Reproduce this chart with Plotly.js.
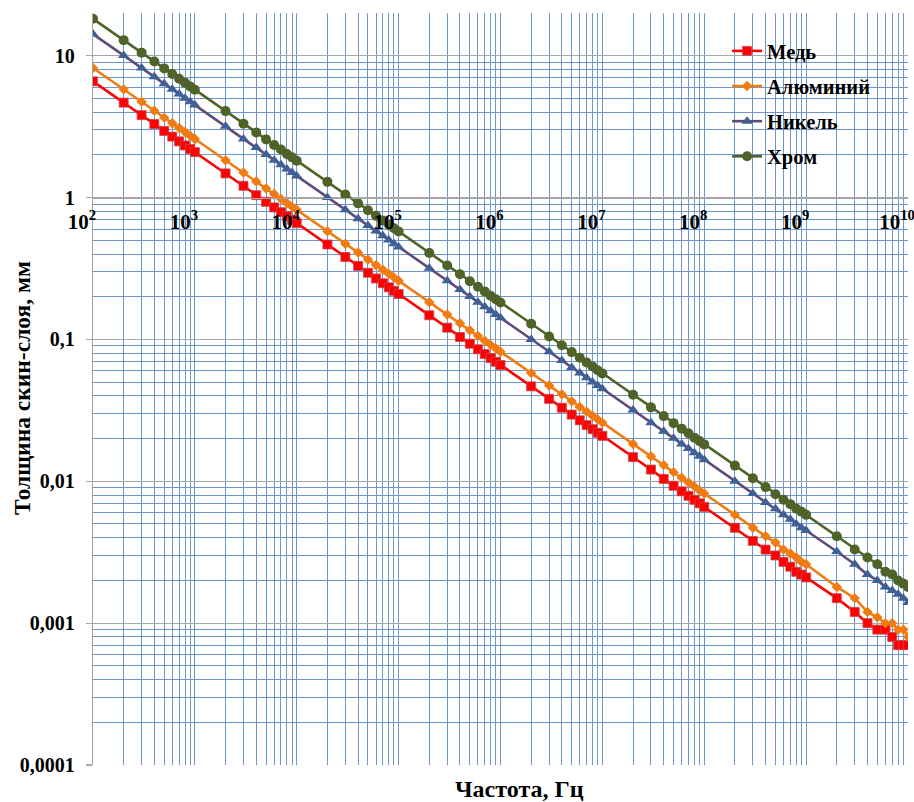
<!DOCTYPE html>
<html>
<head>
<meta charset="utf-8">
<script src="https://cdn.plot.ly/plotly-3.0.1.min.js"></script>
<style>
  html, body { margin: 0; padding: 0; background: #ffffff; }
  #chart { width: 914px; height: 802px; }
</style>
</head>
<body>
<div id="chart"></div>
<script>
// Frequency, Hz
const freq = [
  1e2, 2e2, 3e2, 4e2, 5e2, 6e2, 7e2, 8e2, 9e2,
  1e3, 2e3, 3e3, 4e3, 5e3, 6e3, 7e3, 8e3, 9e3,
  1e4, 2e4, 3e4, 4e4, 5e4, 6e4, 7e4, 8e4, 9e4,
  1e5, 2e5, 3e5, 4e5, 5e5, 6e5, 7e5, 8e5, 9e5,
  1e6, 2e6, 3e6, 4e6, 5e6, 6e6, 7e6, 8e6, 9e6,
  1e7, 2e7, 3e7, 4e7, 5e7, 6e7, 7e7, 8e7, 9e7,
  1e8, 2e8, 3e8, 4e8, 5e8, 6e8, 7e8, 8e8, 9e8,
  1e9, 2e9, 3e9, 4e9, 5e9, 6e9, 7e9, 8e9, 9e9,
  1e10
];

// Skin depth, mm
const copper = [
  6.6, 4.67, 3.81, 3.3, 2.95, 2.69, 2.49, 2.33, 2.2,
  2.09, 1.48, 1.21, 1.04, 0.933, 0.852, 0.789, 0.738, 0.696,
  0.66, 0.467, 0.381, 0.33, 0.295, 0.269, 0.249, 0.233, 0.22,
  0.209, 0.148, 0.121, 0.104, 0.0933, 0.0852, 0.0789, 0.0738, 0.0696,
  0.066, 0.0467, 0.0381, 0.033, 0.0295, 0.0269, 0.0249, 0.0233, 0.022,
  0.0209, 0.0148, 0.0121, 0.0104, 0.0093, 0.0085, 0.0079, 0.0074, 0.007,
  0.0066, 0.0047, 0.0038, 0.0033, 0.003, 0.0027, 0.0025, 0.0023, 0.0022,
  0.0021, 0.0015, 0.0012, 0.001, 0.0009, 0.0009, 0.0008, 0.0007, 0.0007,
  0.0007
];

const aluminium = [
  8.19, 5.79, 4.73, 4.1, 3.66, 3.34, 3.1, 2.9, 2.73,
  2.59, 1.83, 1.5, 1.3, 1.16, 1.06, 0.979, 0.916, 0.863,
  0.819, 0.579, 0.473, 0.41, 0.366, 0.334, 0.31, 0.29, 0.273,
  0.259, 0.183, 0.15, 0.13, 0.116, 0.106, 0.0979, 0.0916, 0.0863,
  0.0819, 0.0579, 0.0473, 0.041, 0.0366, 0.0334, 0.031, 0.029, 0.0273,
  0.0259, 0.0183, 0.015, 0.013, 0.0116, 0.0106, 0.0098, 0.0092, 0.0086,
  0.0082, 0.0058, 0.0047, 0.0041, 0.0037, 0.0033, 0.0031, 0.0029, 0.0027,
  0.0026, 0.0018, 0.0015, 0.0012, 0.0011, 0.001, 0.001, 0.0009, 0.0009,
  0.0008
];

const nickel = [
  14.2, 10.04, 8.2, 7.1, 6.35, 5.8, 5.37, 5.02, 4.73,
  4.49, 3.18, 2.59, 2.25, 2.01, 1.83, 1.7, 1.59, 1.5,
  1.42, 1.0, 0.82, 0.71, 0.635, 0.58, 0.537, 0.502, 0.473,
  0.449, 0.318, 0.259, 0.225, 0.201, 0.183, 0.17, 0.159, 0.15,
  0.142, 0.1, 0.082, 0.071, 0.0635, 0.058, 0.0537, 0.0502, 0.0473,
  0.0449, 0.0318, 0.0259, 0.0225, 0.0201, 0.0183, 0.017, 0.0159, 0.015,
  0.0142, 0.01, 0.0082, 0.0071, 0.0064, 0.0058, 0.0054, 0.005, 0.0047,
  0.0045, 0.0032, 0.0026, 0.0022, 0.002, 0.0018, 0.0017, 0.0016, 0.0015,
  0.0014
];

const chromium = [
  18.2, 12.87, 10.51, 9.1, 8.14, 7.43, 6.88, 6.44, 6.07,
  5.76, 4.07, 3.32, 2.88, 2.57, 2.35, 2.18, 2.03, 1.92,
  1.82, 1.29, 1.05, 0.91, 0.814, 0.743, 0.688, 0.644, 0.607,
  0.576, 0.407, 0.332, 0.288, 0.257, 0.235, 0.218, 0.203, 0.192,
  0.182, 0.129, 0.105, 0.091, 0.0814, 0.0743, 0.0688, 0.0644, 0.0607,
  0.0576, 0.0407, 0.0332, 0.0288, 0.0257, 0.0235, 0.0218, 0.0203, 0.0192,
  0.0182, 0.0129, 0.0105, 0.0091, 0.0081, 0.0074, 0.0069, 0.0064, 0.0061,
  0.0058, 0.0041, 0.0033, 0.0029, 0.0026, 0.0023, 0.0022, 0.002, 0.0019,
  0.0018
];

const seriesNames = ['Медь', 'Алюминий', 'Никель', 'Хром'];

const xTickVals = [1e2, 1e3, 1e4, 1e5, 1e6, 1e7, 1e8, 1e9, 1e10];
const xTickText = ['10<sup>2</sup>', '10<sup>3</sup>', '10<sup>4</sup>', '10<sup>5</sup>',
                   '10<sup>6</sup>', '10<sup>7</sup>', '10<sup>8</sup>', '10<sup>9</sup>', '10<sup>10</sup>'];
const yTickVals = [0.0001, 0.001, 0.01, 0.1, 1, 10];
const yTickText = ['0,0001', '0,001', '0,01', '0,1', '1', '10'];

const xTitle = 'Частота, Гц';
const yTitle = 'Толщина скин-слоя, мм';

const FONT = '"Liberation Serif", "Times New Roman", serif';
const BLUE = '#6D96CC';
const GRAY = '#A6A6A6';

const traces = [
  { y: copper, name: seriesNames[0], line: { color: '#FF0000', width: 2.6 },
    marker: { symbol: 'square', size: 9, color: '#FF0000', line: { color: '#C8464B', width: 0.8 } } },
  { y: aluminium, name: seriesNames[1], line: { color: '#F07B12', width: 2.6 },
    marker: { symbol: 'diamond', size: 8, color: '#F07B12', line: { width: 0 } } },
  { y: nickel, name: seriesNames[2], line: { color: '#604A7B', width: 2.6 },
    marker: { symbol: 'triangle-up', size: 10, color: '#3F5F97', line: { width: 0 } } },
  { y: chromium, name: seriesNames[3], line: { color: '#4F6228', width: 2.6 },
    marker: { symbol: 'circle', size: 10, color: '#4F6228', line: { width: 0 } } }
].map((t, i) => Object.assign({ x: freq, type: 'scatter', mode: 'lines+markers',
                                 legendgroup: 'g' + i }, t));

const layout = {
  width: 914, height: 802,
  margin: { l: 93, r: 6, t: 13, b: 37 },
  paper_bgcolor: '#ffffff', plot_bgcolor: '#ffffff',
  font: { family: FONT, color: '#000000' },
  showlegend: true,
  legend: {
    x: 0.778, xanchor: 'left', y: 0.976, yanchor: 'top',
    bgcolor: 'rgba(0,0,0,0)', borderwidth: 0,
    font: { family: FONT, size: 20.5, color: '#000000', weight: 'bold' },
    tracegroupgap: 5.5
  },
  xaxis: {
    type: 'log', range: [2, 10],
    anchor: 'free', position: 4 / 5.30103,
    tickmode: 'array', tickvals: xTickVals, ticktext: xTickText,
    ticks: '', ticklabelshift: -11, ticklabelstandoff: 5,
    ticklabeloverflow: 'allow',
    tickfont: { family: FONT, size: 21, color: '#000000', weight: 'bold' },
    showgrid: true, gridcolor: BLUE, gridwidth: 1,
    minor: { dtick: 'D1', showgrid: true, gridcolor: BLUE, gridwidth: 1, ticks: '' },
    showline: true, linecolor: GRAY, linewidth: 1.2,
    zeroline: false
  },
  yaxis: {
    type: 'log', range: [-4, 1.30103],
    tickmode: 'array', tickvals: yTickVals, ticktext: yTickText,
    ticks: 'outside', ticklen: 6, tickcolor: GRAY, tickwidth: 1.2,
    ticklabelstandoff: 7,
    tickfont: { family: FONT, size: 20, color: '#000000', weight: 'bold' },
    showgrid: true, gridcolor: GRAY, gridwidth: 1.2,
    minor: { dtick: 'D1', showgrid: true, gridcolor: BLUE, gridwidth: 1, ticks: '' },
    showline: true, linecolor: GRAY, linewidth: 1.2,
    zeroline: false
  },
  annotations: [
    { text: xTitle, xref: 'paper', yref: 'paper', x: 0.5227, y: -0.0315,
      xanchor: 'center', yanchor: 'middle', showarrow: false,
      font: { family: FONT, size: 24, color: '#000000', weight: 'bold' } },
    { text: yTitle, xref: 'paper', yref: 'paper', x: -0.087, y: 0.5015,
      xanchor: 'center', yanchor: 'middle', showarrow: false, textangle: -90,
      font: { family: FONT, size: 23.5, color: '#000000', weight: 'bold' } }
  ]
};

Plotly.newPlot('chart', traces, layout, { staticPlot: true, displayModeBar: false });
</script>
</body>
</html>
